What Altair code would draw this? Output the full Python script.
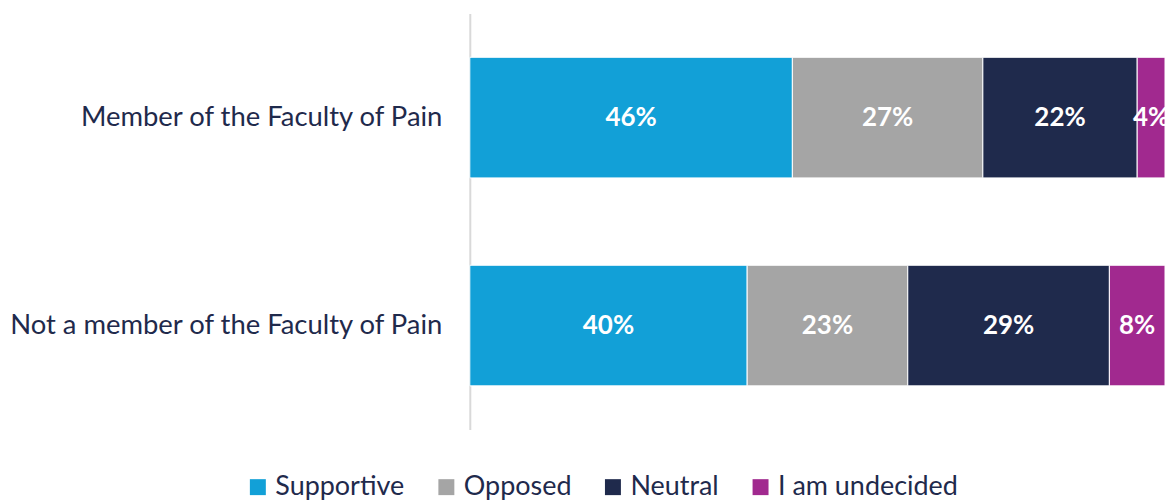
import altair as alt
import pandas as pd

categories = ["Member of the Faculty of Pain", "Not a member of the Faculty of Pain"]
responses = ["Supportive", "Opposed", "Neutral", "I am undecided"]
member_values = [46.4, 27.4, 22.2, 4.0]
nonmember_values = [39.9, 23.1, 29.0, 8.0]
colors = ["#12A0D7", "#A5A5A5", "#1F2A4C", "#A1298F"]

rows = []
for cat, vals in zip(categories, [member_values, nonmember_values]):
    for i, (r, v) in enumerate(zip(responses, vals)):
        rows.append({"cat": cat, "resp": r, "value": v, "idx": i,
                     "label": f"{round(v)}%"})
df = pd.DataFrame(rows)

FONT = "Lato"
TEXT = "#1F2A4C"

base = alt.Chart(df).transform_stack(
    stack="value", groupby=["cat"], sort=[alt.SortField("idx")], as_=["x0", "x1"]
).transform_calculate(mid="(datum.x0 + datum.x1) / 2")

y = alt.Y("cat:N", sort=categories, title=None,
          scale=alt.Scale(paddingInner=0.42, paddingOuter=0.21),
          axis=alt.Axis(ticks=False, domainColor="#D9D9D9", domainWidth=2,
                        labelFont=FONT, labelFontSize=27.5, labelColor=TEXT,
                        labelPadding=28, labelLimit=600))

bars = base.mark_bar(stroke="white", strokeWidth=1).encode(
    x=alt.X("x0:Q", scale=alt.Scale(domain=[0, 100], nice=False), axis=None),
    x2="x1:Q",
    y=y,
    color=alt.Color("resp:N", sort=responses,
                    scale=alt.Scale(domain=responses, range=colors),
                    legend=alt.Legend(title=None, orient="none", direction="horizontal",
                                      legendX=-226, legendY=461,
                                      symbolType="square", symbolSize=256,
                                      symbolStrokeWidth=0, symbolOpacity=1,
                                      labelFont=FONT, labelFontSize=27, labelColor=TEXT,
                                      labelOffset=4, columnPadding=28,
                                      labelLimit=400)),
)

labels = base.mark_text(color="white", font=FONT, fontWeight="bold", fontSize=26).encode(
    x="mid:Q",
    y=alt.Y("cat:N", sort=categories),
    text="label:N",
)

chart = alt.layer(bars, labels).properties(
    width=697, height=417,
    autosize=alt.AutoSizeParams(type="none"),
    padding={"left": 463, "top": 5, "right": 0, "bottom": 70},
).configure_view(stroke=None)

chart.save("out.html", embed_options={"renderer": "svg", "actions": False})
